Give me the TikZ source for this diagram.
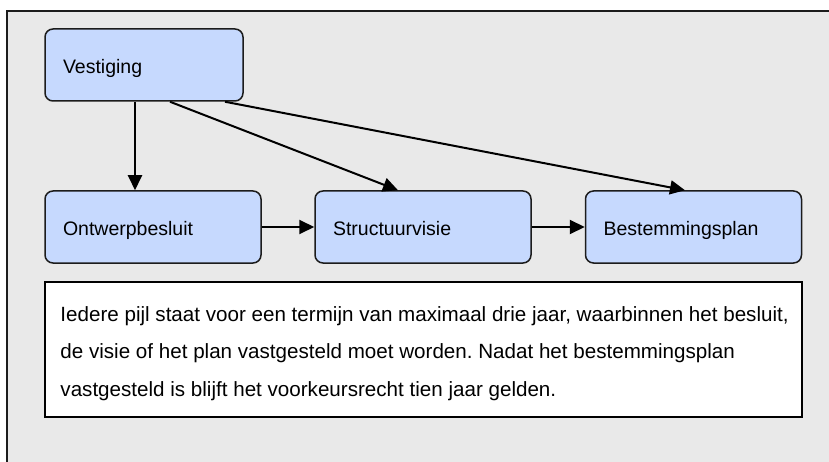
\documentclass[tikz,border=0pt]{standalone}
\usepackage{fontspec}
\setmainfont{Liberation Sans}
\usetikzlibrary{calc,positioning,arrows.meta}
\definecolor{blokblauw}{RGB}{198,217,254}
\definecolor{achtergrond}{RGB}{233,233,233}
\definecolor{rand}{RGB}{28,28,28}

\begin{document}
\frenchspacing
\begin{tikzpicture}[x=1pt,y=-1pt,>={Triangle[length=15pt,width=14pt]},
    blok/.style={draw=rand,line width=1.5pt,rounded corners=8pt,fill=blokblauw,
      minimum height=72pt,inner xsep=18pt,text width=180pt,align=left,
      text height=19pt,text depth=2pt,font=\fontsize{19.5}{23}\selectfont},
    pijl/.style={->,line width=2pt,draw=black}]
  \useasboundingbox (0,0) rectangle (829,462);
  % achtergrond en kader
  \fill[achtergrond] (7,11) rectangle (829,462);
  \draw[line width=2pt,draw=rand] (7,462)--(7,11)--(829,11);

  \node[blok,text width=162pt] (vest) at (144,65) {Vestiging};
  \node[blok] (ontw)   at (153,227)   {Ontwerpbesluit};
  \node[blok] (struct) at (423,227)   {Structuurvisie};
  \node[blok] (best)   at (693.5,227) {Bestemmingsplan};

  \draw[pijl] ([xshift=-9pt]vest.south) -- ([xshift=-9pt]vest.south |- ontw.north);
  \draw[pijl] ([xshift=26pt]vest.south) -- ([xshift=-25pt]struct.north);
  \draw[pijl] ([xshift=81pt]vest.south) -- ([xshift=-8.5pt]best.north);
  \draw[pijl] (ontw.east) -- (struct.west);
  \draw[pijl] (struct.east) -- (best.west);

  % toelichting
  \node[draw=black,line width=1.5pt,fill=white,minimum width=757pt,minimum height=135pt]
    (kader) at (423.5,349.5) {};
  \node[anchor=west,inner sep=0pt,align=left,font=\fontsize{20.6}{37.5}\selectfont]
    (uitleg) at ([xshift=16pt,yshift=-4pt]kader.west)
    {Iedere pijl staat voor een termijn van maximaal drie jaar, waarbinnen het besluit,\\
     de visie of het plan vastgesteld moet worden. Nadat het bestemmingsplan\\
     vastgesteld is blijft het voorkeursrecht tien jaar gelden.};
\end{tikzpicture}
\end{document}
